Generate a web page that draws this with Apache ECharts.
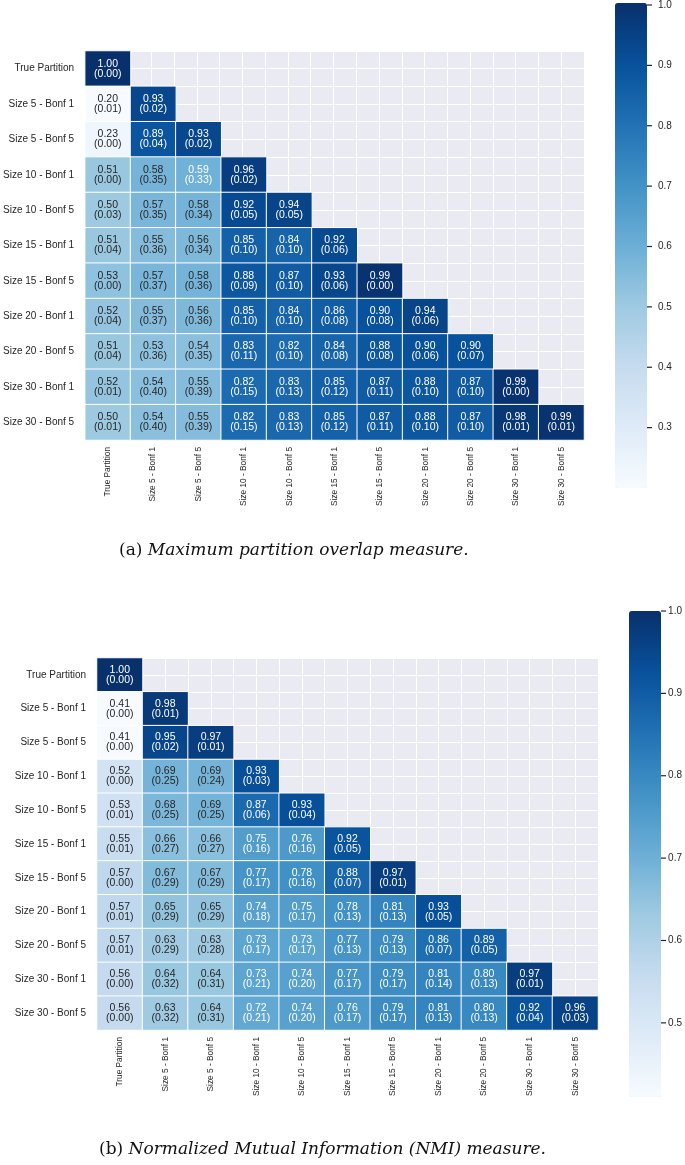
<!DOCTYPE html>
<html>
<head>
<meta charset="utf-8">
<script src="https://cdn.jsdelivr.net/npm/echarts@6/dist/echarts.min.js"></script>
<style>
  html, body { margin: 0; padding: 0; background: #ffffff; }
  #chart { width: 685px; height: 1165px; }
</style>
</head>
<body>
<div id="chart"></div>
<script>
// row / column names (same order on both axes)
const labels = ['True Partition', 'Size 5 - Bonf 1', 'Size 5 - Bonf 5', 'Size 10 - Bonf 1', 'Size 10 - Bonf 5',
  'Size 15 - Bonf 1', 'Size 15 - Bonf 5', 'Size 20 - Bonf 1', 'Size 20 - Bonf 5', 'Size 30 - Bonf 1', 'Size 30 - Bonf 5'];

// (a) maximum partition overlap: mean and (sd), lower triangle row by row
const overlapMean = [
  [1.00],
  [0.20, 0.93],
  [0.23, 0.89, 0.93],
  [0.51, 0.58, 0.59, 0.96],
  [0.50, 0.57, 0.58, 0.92, 0.94],
  [0.51, 0.55, 0.56, 0.85, 0.84, 0.92],
  [0.53, 0.57, 0.58, 0.88, 0.87, 0.93, 0.99],
  [0.52, 0.55, 0.56, 0.85, 0.84, 0.86, 0.90, 0.94],
  [0.51, 0.53, 0.54, 0.83, 0.82, 0.84, 0.88, 0.90, 0.90],
  [0.52, 0.54, 0.55, 0.82, 0.83, 0.85, 0.87, 0.88, 0.87, 0.99],
  [0.50, 0.54, 0.55, 0.82, 0.83, 0.85, 0.87, 0.88, 0.87, 0.98, 0.99]
];
const overlapSd = [
  [0.00],
  [0.01, 0.02],
  [0.00, 0.04, 0.02],
  [0.00, 0.35, 0.33, 0.02],
  [0.03, 0.35, 0.34, 0.05, 0.05],
  [0.04, 0.36, 0.34, 0.10, 0.10, 0.06],
  [0.00, 0.37, 0.36, 0.09, 0.10, 0.06, 0.00],
  [0.04, 0.37, 0.36, 0.10, 0.10, 0.08, 0.08, 0.06],
  [0.04, 0.36, 0.35, 0.11, 0.10, 0.08, 0.08, 0.06, 0.07],
  [0.01, 0.40, 0.39, 0.15, 0.13, 0.12, 0.11, 0.10, 0.10, 0.00],
  [0.01, 0.40, 0.39, 0.15, 0.13, 0.12, 0.11, 0.10, 0.10, 0.01, 0.01]
];

// (b) NMI: mean and (sd)
const nmiMean = [
  [1.00],
  [0.41, 0.98],
  [0.41, 0.95, 0.97],
  [0.52, 0.69, 0.69, 0.93],
  [0.53, 0.68, 0.69, 0.87, 0.93],
  [0.55, 0.66, 0.66, 0.75, 0.76, 0.92],
  [0.57, 0.67, 0.67, 0.77, 0.78, 0.88, 0.97],
  [0.57, 0.65, 0.65, 0.74, 0.75, 0.78, 0.81, 0.93],
  [0.57, 0.63, 0.63, 0.73, 0.73, 0.77, 0.79, 0.86, 0.89],
  [0.56, 0.64, 0.64, 0.73, 0.74, 0.77, 0.79, 0.81, 0.80, 0.97],
  [0.56, 0.63, 0.64, 0.72, 0.74, 0.76, 0.79, 0.81, 0.80, 0.92, 0.96]
];
const nmiSd = [
  [0.00],
  [0.00, 0.01],
  [0.00, 0.02, 0.01],
  [0.00, 0.25, 0.24, 0.03],
  [0.01, 0.25, 0.25, 0.06, 0.04],
  [0.01, 0.27, 0.27, 0.16, 0.16, 0.05],
  [0.00, 0.29, 0.29, 0.17, 0.16, 0.07, 0.01],
  [0.01, 0.29, 0.29, 0.18, 0.17, 0.13, 0.13, 0.05],
  [0.01, 0.29, 0.28, 0.17, 0.17, 0.13, 0.13, 0.07, 0.05],
  [0.00, 0.32, 0.31, 0.21, 0.20, 0.17, 0.17, 0.14, 0.13, 0.01],
  [0.00, 0.32, 0.31, 0.21, 0.20, 0.17, 0.17, 0.13, 0.13, 0.04, 0.03]
];

// colour bar ranges and tick labels
const overlapRange = [0.20, 1.00];
const nmiRange = [0.41, 1.00];
const overlapTicks = [0.3, 0.4, 0.5, 0.6, 0.7, 0.8, 0.9, 1.0];
const nmiTicks = [0.5, 0.6, 0.7, 0.8, 0.9, 1.0];

const blues = ['#f7fbff', '#deebf7', '#c6dbef', '#9ecae1', '#6baed6', '#4292c6', '#2171b5', '#08519c', '#08306b'];
const textDark = '#262626';
const sans = 'Liberation Sans, Arial, sans-serif';

function cells(mean, sd, range) {
  const out = [];
  mean.forEach((row, r) => {
    row.forEach((v, c) => {
      const t = (v - range[0]) / (range[1] - range[0]);
      out.push({
        value: [c, r, v, sd[r][c]],
        label: { color: t >= 0.48 ? '#ffffff' : textDark }
      });
    });
  });
  return out;
}

// one heatmap block: grid box, colour bar box
function panel(idx, box, bar, range, ticks) {
  const g = idx * 3;
  return {
    grids: [
      { left: box[0], top: box[1], width: box[2], height: box[3], show: true, backgroundColor: '#eaeaf2', borderWidth: 0 },
      { left: bar[0], top: bar[1], width: bar[2], height: bar[3], show: false },
      { left: box[0], top: box[1], width: box[2], height: box[3], show: false }
    ],
    xAxes: [
      { type: 'category', gridIndex: g, data: labels, position: 'bottom',
        axisLine: { show: false }, axisTick: { show: false }, splitLine: { show: false },
        axisLabel: { interval: 0, rotate: 90, margin: 7, fontSize: 8.3, color: textDark, fontFamily: sans } },
      { type: 'value', gridIndex: g + 1, show: false, min: 0, max: 1 },
      { type: 'value', gridIndex: g + 2, min: 0, max: 22, interval: 1,
        axisLine: { show: false }, axisTick: { show: false }, axisLabel: { show: false },
        splitLine: { show: true, lineStyle: { color: '#ffffff', width: 1 } } }
    ],
    yAxes: [
      { type: 'category', gridIndex: g, data: labels, inverse: true,
        axisLine: { show: false }, axisTick: { show: false }, splitLine: { show: false },
        axisLabel: { interval: 0, margin: 11, fontSize: 10, color: textDark, fontFamily: sans } },
      { type: 'value', gridIndex: g + 1, position: 'right', min: range[0], max: range[1],
        axisLine: { show: false }, axisTick: { show: false },
        axisLabel: { show: true, margin: 11, fontSize: 10, color: textDark, fontFamily: sans,
          customValues: ticks, formatter: v => v.toFixed(1) },
        splitLine: { show: false } },
      { type: 'value', gridIndex: g + 2, min: 0, max: 22, interval: 1,
        axisLine: { show: false }, axisTick: { show: false }, axisLabel: { show: false },
        splitLine: { show: true, lineStyle: { color: '#ffffff', width: 1 } } }
    ],
    visualMap: {
      type: 'continuous', seriesIndex: idx, dimension: 2, min: range[0], max: range[1],
      calculable: false, hoverLink: false, orient: 'vertical', padding: 0,
      left: bar[0], top: bar[1], itemWidth: bar[2], itemHeight: bar[3],
      text: null, inRange: { color: blues }
    },
    barAxis: g + 1,
    bar: bar,
    ticks: ticks,
    seriesAxis: { xAxisIndex: g, yAxisIndex: g }
  };
}

const pa = panel(0, [83, 51, 501, 389], [615, 3, 32, 485], overlapRange, overlapTicks);
const pb = panel(1, [97, 658, 501, 372], [629, 611, 32, 486], nmiRange, nmiTicks);

function heat(p, data) {
  return {
    type: 'heatmap',
    xAxisIndex: p.seriesAxis.xAxisIndex,
    yAxisIndex: p.seriesAxis.yAxisIndex,
    data: data,
    z: 5,
    itemStyle: { borderColor: '#ffffff', borderWidth: 1 },
    label: {
      show: true, fontSize: 10.5, lineHeight: 10, fontFamily: sans,
      formatter: p2 => p2.value[2].toFixed(2) + '\n(' + p2.value[3].toFixed(2) + ')'
    },
    emphasis: { disabled: true }
  };
}

const serif = 'DejaVu Serif, serif';
const capSize = 17;
const captionStyle = {
  fontFamily: serif, fontSize: capSize, fontWeight: 'normal', color: '#111111',
  rich: {
    n: { fontFamily: serif, fontSize: capSize, fontWeight: 'normal', fontStyle: 'normal', color: '#111111' },
    i: { fontFamily: serif, fontSize: capSize, fontWeight: 'normal', fontStyle: 'italic', color: '#111111' }
  }
};

const chart = echarts.init(document.getElementById('chart'), null, { renderer: 'canvas' });
chart.setOption({
  backgroundColor: '#ffffff',
  animation: false,
  title: [
    { text: '{n|(a)} {i|Maximum partition overlap measure.}', left: 119, top: 542, padding: 0, textStyle: captionStyle },
    { text: '{n|(b)} {i|Normalized Mutual Information (NMI) measure.}', left: 99, top: 1141, padding: 0, textStyle: captionStyle }
  ],
  grid: pa.grids.concat(pb.grids),
  xAxis: pa.xAxes.concat(pb.xAxes),
  yAxis: pa.yAxes.concat(pb.yAxes),
  visualMap: [pa.visualMap, pb.visualMap],
  series: [
    heat(pa, cells(overlapMean, overlapSd, overlapRange)),
    heat(pb, cells(nmiMean, nmiSd, nmiRange))
  ]
});

// colour bar tick marks, placed through the colour bar axis scale
const tickMarks = [];
[pa, pb].forEach(p => {
  const x0 = p.bar[0] + p.bar[2];
  p.ticks.forEach(v => {
    const y = chart.convertToPixel({ yAxisIndex: p.barAxis }, v);
    tickMarks.push({
      type: 'line', silent: true, z: 10,
      shape: { x1: x0, y1: y, x2: x0 + 5, y2: y },
      style: { stroke: textDark, lineWidth: 1.2 }
    });
  });
});
chart.setOption({ graphic: tickMarks });
</script>
</body>
</html>
